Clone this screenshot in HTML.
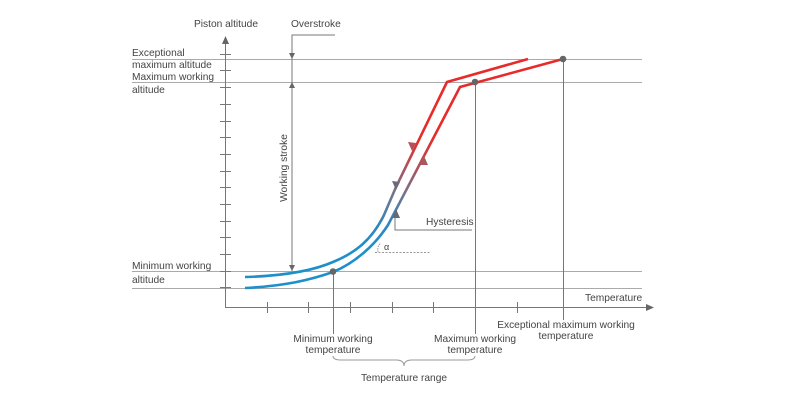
<!DOCTYPE html>
<html><head><meta charset="utf-8"><style>
html,body{margin:0;padding:0;background:#fff;}
svg{display:block;}
text{font-family:"Liberation Sans",sans-serif;font-size:10.2px;fill:#444;}
</style></head><body>
<svg width="800" height="400" viewBox="0 0 800 400" xmlns="http://www.w3.org/2000/svg">
<defs>
<linearGradient id="g" gradientUnits="userSpaceOnUse" x1="0" y1="250" x2="0" y2="130">
<stop offset="0" stop-color="#1f8fcb"/>
<stop offset="0.2" stop-color="#2a88bd"/>
<stop offset="0.45" stop-color="#6f7790"/>
<stop offset="0.7" stop-color="#b05058"/>
<stop offset="0.9" stop-color="#e03030"/>
<stop offset="1" stop-color="#e82a2a"/>
</linearGradient>
</defs>
<g stroke="#aaa" stroke-width="1" fill="none">
<line x1="132" y1="59.5" x2="642" y2="59.5"/>
<line x1="132" y1="82.5" x2="642" y2="82.5"/>
<line x1="132" y1="271.5" x2="642" y2="271.5"/>
<line x1="132" y1="288.5" x2="642" y2="288.5"/>
</g>
<g stroke="#777" stroke-width="1" fill="none">
<line x1="225.5" y1="42" x2="225.5" y2="308"/>
<line x1="225" y1="307.5" x2="648" y2="307.5"/>
<g>
<line x1="220" y1="54.5" x2="231" y2="54.5"/><line x1="220" y1="70.5" x2="231" y2="70.5"/>
<line x1="220" y1="87.5" x2="231" y2="87.5"/><line x1="220" y1="104.5" x2="231" y2="104.5"/>
<line x1="220" y1="121.5" x2="231" y2="121.5"/><line x1="220" y1="137.5" x2="231" y2="137.5"/>
<line x1="220" y1="154.5" x2="231" y2="154.5"/><line x1="220" y1="171.5" x2="231" y2="171.5"/>
<line x1="220" y1="187.5" x2="231" y2="187.5"/><line x1="220" y1="204.5" x2="231" y2="204.5"/>
<line x1="220" y1="221.5" x2="231" y2="221.5"/><line x1="220" y1="237.5" x2="231" y2="237.5"/>
<line x1="220" y1="254.5" x2="231" y2="254.5"/><line x1="220" y1="271.5" x2="231" y2="271.5"/>
<line x1="220" y1="287.5" x2="231" y2="287.5"/>
</g>
<g>
<line x1="267.5" y1="302" x2="267.5" y2="313"/><line x1="308.5" y1="302" x2="308.5" y2="313"/>
<line x1="350.5" y1="302" x2="350.5" y2="313"/><line x1="392.5" y1="302" x2="392.5" y2="313"/>
<line x1="433.5" y1="302" x2="433.5" y2="313"/><line x1="475.5" y1="302" x2="475.5" y2="313"/>
<line x1="517.5" y1="302" x2="517.5" y2="313"/>
</g>
<line x1="333.5" y1="271" x2="333.5" y2="334"/>
<line x1="475.5" y1="82" x2="475.5" y2="334"/>
<line x1="563.5" y1="59" x2="563.5" y2="320"/>
<polyline points="335,35 292,35 292,271"/>
<polyline points="395,215 395,230 472,230"/>
<path d="M333,356 q0,4 8,4 h55 q8,0 8,6 q0,-6 8,-6 h55 q8,0 8,-4" stroke="#999"/>
</g>
<g fill="#666">
<polygon points="225.5,36 222,44 229,44"/>
<polygon points="654,307.5 646,304 646,311"/>
<polygon points="292,59 289,53 295,53"/>
<polygon points="292,82 289,88 295,88"/>
<polygon points="292,271 289,265 295,265"/>
</g>
<line x1="375" y1="252.5" x2="430" y2="252.5" stroke="#999" stroke-dasharray="2,1.5"/>
<path d="M378,252 Q377,246 381,243" stroke="#999" fill="none" stroke-dasharray="1.5,1"/>
<text x="384" y="250" style="font-size:9px">α</text>
<g stroke="url(#g)" stroke-width="2.6" fill="none">
<path d="M245,277 C280,276 310,272 333,262 C355,253 372,240 384,215 L396,187 L447,82 L528,59"/>
<path d="M245,288 C285,286 310,280 333,272 C355,263 375,245 388,225 L460,87 L563,59"/>
</g>
<g>
<polygon points="396,190 392,181 400,182" fill="#6a6a78"/>
<polygon points="412,151 408,142 416,143" fill="#b85058"/>
<polygon points="396,209 392,218 400,218" fill="#666a78"/>
<polygon points="424,156 420,165 428,165" fill="#a85860"/>
</g>
<circle cx="333" cy="271.5" r="3.3" fill="#666"/>
<circle cx="475" cy="82" r="3.3" fill="#666"/>
<circle cx="563" cy="59" r="3.3" fill="#666"/>
<text x="194" y="27">Piston altitude</text>
<text x="291" y="27">Overstroke</text>
<text x="132" y="56">Exceptional</text>
<text x="132" y="68">maximum altitude</text>
<text x="132" y="80">Maximum working</text>
<text x="132" y="93">altitude</text>
<text x="132" y="269">Minimum working</text>
<text x="132" y="283">altitude</text>
<text x="287" y="168" text-anchor="middle" transform="rotate(-90 287 168)">Working stroke</text>
<text x="426" y="225">Hysteresis</text>
<text x="585" y="301">Temperature</text>
<text x="566" y="328" text-anchor="middle">Exceptional maximum working</text>
<text x="566" y="339" text-anchor="middle">temperature</text>
<text x="333" y="342" text-anchor="middle">Minimum working</text>
<text x="333" y="353" text-anchor="middle">temperature</text>
<text x="475" y="342" text-anchor="middle">Maximum working</text>
<text x="475" y="353" text-anchor="middle">temperature</text>
<text x="404" y="381" text-anchor="middle">Temperature range</text>
</svg>
</body></html>
